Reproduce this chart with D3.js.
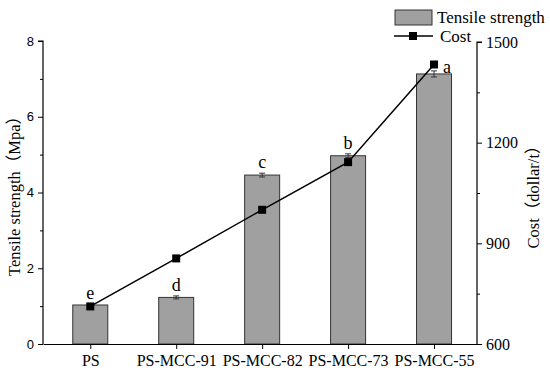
<!DOCTYPE html>
<html><head><meta charset="utf-8">
<script src="https://cdn.jsdelivr.net/npm/d3@7"></script>
<style>body{margin:0;background:#fff}svg{display:block}</style>
</head><body>
<script>
const categories = ["PS","PS-MCC-91","PS-MCC-82","PS-MCC-73","PS-MCC-55"];
const strength = [1.03, 1.23, 4.46, 4.97, 7.13];
const strengthErr = [0.03, 0.04, 0.05, 0.05, 0.08];
const cost = [712, 855, 1000, 1142, 1433];
const letters = ["e","d","c","b","a"];
const leftTicks = [0,2,4,6,8];
const rightTicks = [600,900,1200,1500];

const W=550,H=373;
const svg=d3.select("body").append("svg").attr("width",W).attr("height",H);
const serif="'Liberation Serif','Times New Roman',serif";
const sans="'Liberation Sans',Arial,sans-serif";
const cjk="'Noto Sans CJK SC',sans-serif";

const x=d3.scaleLinear().domain([0.45,5.5]).range([43,477]);
const y=d3.scaleLinear().domain([0,8]).range([344,41]);
const y2=d3.scaleLinear().domain([600,1500]).range([344,42]);
const bw=35;

// bars
svg.selectAll("rect.bar").data(strength).join("rect")
 .attr("x",(d,i)=>x(i+1)-bw/2).attr("y",d=>y(d))
 .attr("width",bw).attr("height",d=>y(0)-y(d))
 .attr("fill","#a0a0a0").attr("stroke","#333").attr("stroke-width",1);

// error bars
const eb=svg.append("g").attr("stroke","#333").attr("stroke-width",1);
strength.forEach((v,i)=>{
  const cx=x(i+1), e=strengthErr[i];
  eb.append("line").attr("x1",cx).attr("x2",cx).attr("y1",y(v+e)).attr("y2",y(v-e));
  eb.append("line").attr("x1",cx-3).attr("x2",cx+3).attr("y1",y(v+e)).attr("y2",y(v+e));
  eb.append("line").attr("x1",cx-3).attr("x2",cx+3).attr("y1",y(v-e)).attr("y2",y(v-e));
});

// cost line
const line=d3.line().x((d,i)=>x(i+1)).y(d=>y2(d));
svg.append("path").datum(cost).attr("d",line).attr("fill","none").attr("stroke","#000").attr("stroke-width",1.5);
svg.selectAll("rect.pt").data(cost).join("rect")
 .attr("x",(d,i)=>x(i+1)-4).attr("y",d=>y2(d)-4).attr("width",8).attr("height",8).attr("fill","#000");

// letters
svg.selectAll("text.let").data(letters).join("text")
 .attr("x",(d,i)=> i===4 ? x(i+1)+9 : x(i+1))
 .attr("y",(d,i)=> i===4 ? y(strength[i])-1 : y(strength[i]+strengthErr[i])-5)
 .attr("text-anchor",(d,i)=> i===4 ? "start":"middle")
 .attr("font-family",serif).attr("font-size",18).text(d=>d);

// axes
const axL=d3.axisLeft(y).tickValues(d3.range(0,8.01,1)).tickSize(5).tickFormat(d=>leftTicks.includes(d)?d:"");
const gL=svg.append("g").attr("transform","translate(43,0)").call(axL);
gL.selectAll(".tick line").attr("x2",d=>leftTicks.includes(d)?-5:-3);
gL.selectAll("text").attr("font-family",sans).attr("font-size",13).attr("dx",-1);

const axR=d3.axisRight(y2).tickValues(d3.range(600,1501,150)).tickSize(5).tickFormat(d=>rightTicks.includes(d)?d:"");
const gR=svg.append("g").attr("transform","translate(477,0)").call(axR);
gR.selectAll(".tick line").attr("x2",d=>rightTicks.includes(d)?5:3);
gR.selectAll("text").attr("font-family",serif).attr("font-size",16).attr("dx",1);

const axB=d3.axisBottom(x).tickValues([1,2,3,4,5]).tickSize(5).tickFormat(d=>categories[d-1]).tickSizeOuter(0);
const gB=svg.append("g").attr("transform","translate(0,344)").call(axB);
gB.selectAll("text").attr("font-family",serif).attr("font-size",16).attr("dy","0.9em");
[gL,gR,gB].forEach(g=>{g.select(".domain").attr("stroke","#000").attr("stroke-width",1.2);g.selectAll(".tick line").attr("stroke","#000");g.selectAll("text").attr("fill","#000");});
gL.select(".domain").attr("d","M-5,41H0V344");
gR.select(".domain").attr("d","M5,42H0V344");

// titles (serif words, CJK full-width parentheses)
function title(tx,ty,parts){
  const t=svg.append("text").attr("transform",`translate(${tx},${ty}) rotate(-90)`).attr("text-anchor","middle").attr("font-size",16.5);
  parts.forEach(p=>t.append("tspan").attr("font-family",p[1]?cjk:serif).text(p[0]));
}
title(20,192,[["Tensile strength",0],["（",1],["Mpa",0],["）",1]]);
title(539,193,[["Cost",0],["（",1],["dollar/t",0],["）",1]]);

// legend
svg.append("rect").attr("x",395).attr("y",10).attr("width",37).attr("height",15).attr("fill","#a0a0a0").attr("stroke","#333");
svg.append("text").attr("x",437).attr("y",23).attr("font-family",serif).attr("font-size",17).text("Tensile strength");
svg.append("line").attr("x1",394).attr("x2",433).attr("y1",36).attr("y2",36).attr("stroke","#000").attr("stroke-width",1.5);
svg.append("rect").attr("x",409).attr("y",32).attr("width",8).attr("height",8).attr("fill","#000");
svg.append("text").attr("x",440).attr("y",42).attr("font-family",serif).attr("font-size",17).text("Cost");
</script>
</body></html>
